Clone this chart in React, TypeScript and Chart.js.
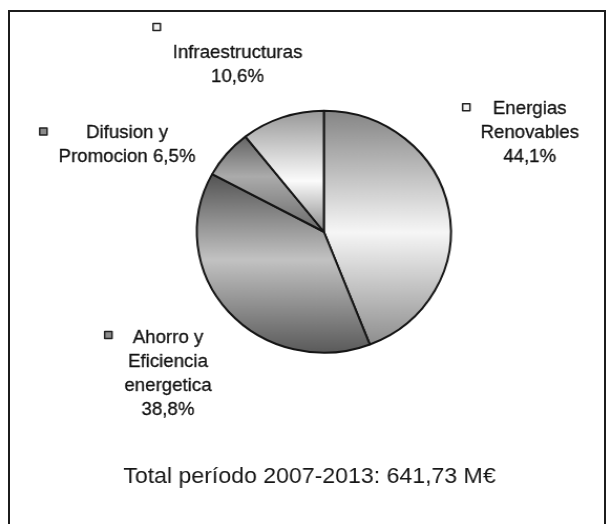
import { useEffect, useRef } from "react";
import { Chart, registerables } from "chart.js";

Chart.register(...registerables);

// ---- data ----
const categories = [
  "Energias Renovables",
  "Ahorro y Eficiencia energetica",
  "Difusion y Promocion",
  "Infraestructuras",
];
const shares = [44.1, 38.8, 6.5, 10.6];
const labelLines = [
  ["Energias", "Renovables", "44,1%"],
  ["Ahorro y", "Eficiencia", "energetica", "38,8%"],
  ["Difusion y", "Promocion 6,5%"],
  ["Infraestructuras", "10,6%"],
];
const totalLabel = "Total período 2007-2013: 641,73 M€";

// ---- styles ----
const CANVAS_W = 583;
const CANVAS_H = 524;
const STRETCH = 612 / CANVAS_W;
const BORDER_W = 2;
const EDGE_TOP = ["#858585", "#535353", "#646464", "#989898"];
const EDGE_BOTTOM = ["#8e8e8e", "#5a5a5a", "#6a6a6a", "#8a8a8a"];
const CENTER_COL = ["#f6f6f6", "#c2c2c2", "#ababab", "#fbfbfb"];
const CENTER_POS = [0.52, 0.48, 0.42, 0.58];
const KEY_FILL = ["#f2f2f2", "#8c8c8c", "#8a8a8a", "#f2f2f2"];
const FONT = '"Liberation Sans", Arial, Helvetica, sans-serif';
const LABEL_SIZE = 17.8;
const LINE_H = 24;
// label block layout (canvas coordinates): text centre x, first baseline, key square centre
const LAYOUT = [
  { tx: 504.6, y0: 113.5, kx: 444.2, ky: 107.2 },
  { tx: 160.0, y0: 343.3, kx: 103.2, ky: 335.0 },
  { tx: 121.0, y0: 138.3, kx: 41.3, ky: 131.5 },
  { tx: 226.3, y0: 58.0, kx: 149.3, ky: 27.0 },
];
const TOTAL_X = 294.8;
const TOTAL_Y = 483;
const TOTAL_SIZE = 22;

function sliceFill(context: any) {
  const i = context.dataIndex;
  const chart = context.chart;
  const area = chart.chartArea;
  if (!area) return CENTER_COL[i];
  const data = context.dataset.data as number[];
  const total = data.reduce((a, b) => a + b, 0);
  let cum = 0;
  for (let k = 0; k < i; k++) cum += data[k];
  const a0 = -Math.PI / 2 + (2 * Math.PI * cum) / total;
  const a1 = a0 + (2 * Math.PI * data[i]) / total;
  const cy = (area.top + area.bottom) / 2;
  const r =
    (Math.min(area.right - area.left, area.bottom - area.top) - BORDER_W) / 2;
  const ys = [cy, cy + r * Math.sin(a0), cy + r * Math.sin(a1)];
  for (const ang of [-Math.PI / 2, Math.PI / 2, (3 * Math.PI) / 2]) {
    if (ang >= a0 && ang <= a1) ys.push(cy + r * Math.sin(ang));
  }
  const yTop = Math.min(...ys);
  const yBot = Math.max(...ys);
  const g = chart.ctx.createLinearGradient(0, yTop, 0, yBot);
  g.addColorStop(0, EDGE_TOP[i]);
  g.addColorStop(CENTER_POS[i], CENTER_COL[i]);
  g.addColorStop(1, EDGE_BOTTOM[i]);
  return g;
}

const labelsPlugin = {
  id: "sliceLabels",
  afterDraw(chart: any) {
    const ctx = chart.ctx as CanvasRenderingContext2D;
    ctx.save();
    ctx.textAlign = "center";
    ctx.textBaseline = "alphabetic";
    ctx.font = `${LABEL_SIZE}px ${FONT}`;
    ctx.lineJoin = "round";
    LAYOUT.forEach((lay, i) => {
      ctx.fillStyle = "#121212";
      ctx.strokeStyle = "#121212";
      ctx.lineWidth = 0.3;
      labelLines[i].forEach((ln, j) => {
        ctx.fillText(ln, lay.tx, lay.y0 + j * LINE_H);
        ctx.strokeText(ln, lay.tx, lay.y0 + j * LINE_H);
      });
      const s = 7;
      ctx.fillStyle = KEY_FILL[i];
      ctx.fillRect(lay.kx - s / 2, lay.ky - s / 2, s, s);
      ctx.strokeStyle = "#222";
      ctx.lineWidth = 1.5;
      ctx.strokeRect(lay.kx - s / 2, lay.ky - s / 2, s, s);
    });
    ctx.fillStyle = "#161616";
    ctx.font = `${TOTAL_SIZE}px ${FONT}`;
    ctx.fillText(totalLabel, TOTAL_X, TOTAL_Y);
    ctx.restore();
  },
};

export default function App() {
  const ref = useRef<HTMLCanvasElement | null>(null);
  useEffect(() => {
    if (!ref.current) return;
    const chart = new Chart(ref.current, {
      type: "pie",
      data: {
        labels: categories,
        datasets: [
          {
            data: shares,
            backgroundColor: sliceFill as any,
            borderColor: "#161616",
            borderWidth: BORDER_W,
          },
        ],
      },
      options: {
        animation: false,
        responsive: false,
        devicePixelRatio: 1,
        events: [],
        rotation: 0,
        layout: {
          padding: { left: 186.5, right: 152.5, top: 109.5, bottom: 170 },
        },
        plugins: {
          legend: { display: false },
          tooltip: { enabled: false },
        },
      },
      plugins: [labelsPlugin],
    });
    return () => chart.destroy();
  }, []);

  return (
    <div
      style={{
        position: "absolute",
        left: 0,
        top: 0,
        width: 612,
        height: 524,
        overflow: "hidden",
        background: "#fff",
      }}
    >
      <canvas
        ref={ref}
        width={CANVAS_W}
        height={CANVAS_H}
        style={{
          position: "absolute",
          left: 0,
          top: 0,
          width: CANVAS_W,
          height: CANVAS_H,
          transform: `scaleX(${STRETCH})`,
          transformOrigin: "0 0",
        }}
      />
      <div
        style={{
          position: "absolute",
          left: 8,
          top: 10,
          width: 598,
          height: 540,
          boxSizing: "border-box",
          borderLeft: "2px solid #1c1c1c",
          borderTop: "2px solid #1c1c1c",
          borderRight: "2px solid #1c1c1c",
          pointerEvents: "none",
        }}
      />
    </div>
  );
}
